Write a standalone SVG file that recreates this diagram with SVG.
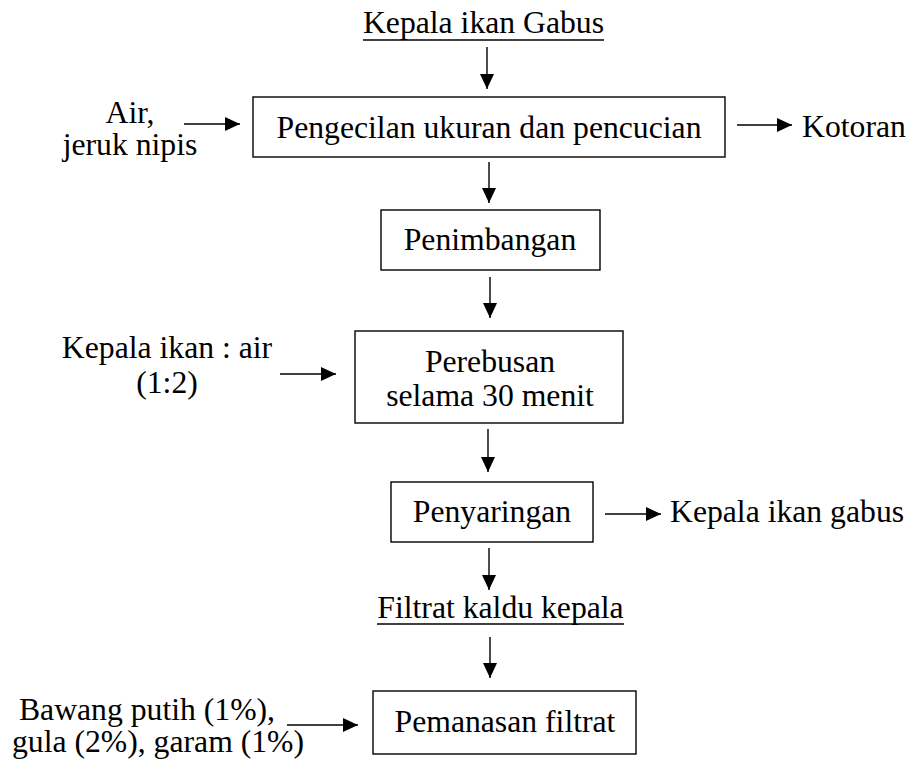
<svg xmlns="http://www.w3.org/2000/svg" width="913" height="763" viewBox="0 0 913 763">
<style>
text{font-family:"Liberation Serif","Times New Roman",Times,serif;font-size:31.7px;fill:#000}
.c{text-anchor:middle}
.box{fill:#fff;stroke:#000;stroke-width:1.4}
.ln{stroke:#000;stroke-width:1.4;fill:none;marker-end:url(#ah)}
.ul{stroke:#000;stroke-width:1.4}
</style>
<defs>
<marker id="ah" viewBox="0 0 15 14" refX="15" refY="7" markerWidth="15" markerHeight="14" markerUnits="userSpaceOnUse" orient="auto">
<path d="M0,0 L15,7 L0,14 z" fill="#000"/>
</marker>
</defs>
<rect width="913" height="763" fill="#fff"/>
<g id="title">
<text class="c" x="483.5" y="33">Kepala ikan Gabus</text>
<line class="ul" x1="363" y1="40" x2="604" y2="40"/>
</g>
<g id="n1">
<rect class="box" x="253" y="97" width="472" height="60"/>
<text class="c" x="489" y="138">Pengecilan ukuran dan pencucian</text>
</g>
<g id="in1">
<text class="c" x="130" y="123">Air,</text>
<text class="c" x="130" y="155">jeruk nipis</text>
</g>
<g id="out1"><text x="802" y="137">Kotoran</text></g>
<g id="n2">
<rect class="box" x="381" y="210" width="219" height="60"/>
<text class="c" x="490" y="250">Penimbangan</text>
</g>
<g id="n3">
<rect class="box" x="355" y="331" width="268" height="92"/>
<text class="c" x="490" y="372">Perebusan</text>
<text class="c" x="490" y="406">selama 30 menit</text>
</g>
<g id="in3">
<text class="c" x="167" y="358">Kepala ikan : air</text>
<text class="c" x="167" y="393">(1:2)</text>
</g>
<g id="n4">
<rect class="box" x="391" y="482" width="202" height="60"/>
<text class="c" x="492" y="522">Penyaringan</text>
</g>
<g id="out4"><text x="670" y="522">Kepala ikan gabus</text></g>
<g id="filtrat">
<text class="c" x="500.5" y="618">Filtrat kaldu kepala</text>
<line class="ul" x1="377" y1="624" x2="624" y2="624"/>
</g>
<g id="n5">
<rect class="box" x="373" y="691" width="263" height="63"/>
<text class="c" x="505" y="732">Pemanasan filtrat</text>
</g>
<g id="in5">
<text class="c" x="147" y="720">Bawang putih (1%),</text>
<text class="c" x="158" y="752">gula (2%), garam (1%)</text>
</g>
<g id="connectors">
<line class="ln" x1="487" y1="47" x2="487" y2="89"/>
<line class="ln" x1="489" y1="162" x2="489" y2="203"/>
<line class="ln" x1="490" y1="277" x2="490" y2="318"/>
<line class="ln" x1="488" y1="429" x2="488" y2="472"/>
<line class="ln" x1="489" y1="548" x2="489" y2="590"/>
<line class="ln" x1="490" y1="637" x2="490" y2="678"/>
<line class="ln" x1="184" y1="124" x2="240" y2="124"/>
<line class="ln" x1="737" y1="125" x2="792" y2="125"/>
<line class="ln" x1="280" y1="374" x2="336" y2="374"/>
<line class="ln" x1="605" y1="514" x2="661" y2="514"/>
<line class="ln" x1="287" y1="725" x2="358" y2="725"/>
</g>
</svg>
